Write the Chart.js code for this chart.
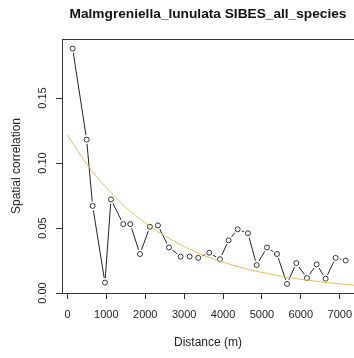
<!DOCTYPE html>
<html>
<head>
<meta charset="utf-8">
<script src="https://cdn.jsdelivr.net/npm/chart.js@4.4.1/dist/chart.umd.min.js"></script>
<style>
  html, body { margin: 0; padding: 0; background: #fff; overflow: hidden; }
  #wrap { width: 354px; height: 358px; position: relative; }
</style>
</head>
<body>
<div id="wrap"><canvas id="chart"></canvas></div>
<script>
const chartTitle = "Malmgreniella_lunulata SIBES_all_species";
const xLabel = "Distance (m)";
const yLabel = "Spatial correlation";

// correlogram points (distance class centre, correlation)
const distances = [134, 493, 647, 964, 1118, 1435, 1615, 1864, 2121, 2326, 2609, 2910, 3141, 3363,
  3645, 3920, 4143, 4375, 4640, 4863, 5129, 5386, 5643, 5882, 6157, 6406, 6637, 6894, 7152];
const correlations = [0.188, 0.118, 0.067, 0.008, 0.072, 0.053, 0.053, 0.030, 0.051, 0.052, 0.035, 0.028, 0.028, 0.027,
  0.031, 0.026, 0.0405, 0.049, 0.046, 0.0215, 0.035, 0.030, 0.007, 0.023, 0.0115, 0.022, 0.011, 0.027, 0.025];

// fitted decay curve
const fitDistances = [0, 500, 1000, 1500, 2000, 2500, 3000, 3500, 4000, 4500, 5000, 5500, 6000, 6500, 7000, 7500];
const fitValues = [0.1215, 0.099, 0.081, 0.066, 0.054, 0.044, 0.0357, 0.029, 0.0237, 0.0193, 0.0158, 0.0129, 0.0105, 0.0086, 0.0070, 0.0057];

const xTicks = [0, 1000, 2000, 3000, 4000, 5000, 6000, 7000];
const yTicks = [0, 0.05, 0.10, 0.15];

const FONT = '"Liberation Sans", Arial, Helvetica, sans-serif';
const INK = "#222";
const AXIS = "#333";

const points = distances.map((d, i) => ({ x: d, y: correlations[i] }));
const fitPoints = fitDistances.map((d, i) => ({ x: d, y: fitValues[i] }));

// main title centred over the plot region, like R does
const titlePlugin = {
  id: "rTitle",
  afterDraw(chart) {
    const { ctx, chartArea } = chart;
    ctx.save();
    ctx.font = "bold 13.7px " + FONT;
    ctx.fillStyle = "#111";
    ctx.textAlign = "center";
    ctx.textBaseline = "middle";
    ctx.fillText(chartTitle, (chartArea.left + chartArea.right) / 2, 14.5);
    ctx.restore();
  }
};

new Chart(document.getElementById("chart").getContext("2d"), {
  type: "scatter",
  data: {
    datasets: [
      // connecting segments
      { data: points, showLine: true, borderColor: INK, borderWidth: 1, pointRadius: 0, tension: 0, order: 3 },
      // white gaps round each point (R type = "b")
      { data: points, showLine: false, pointRadius: 4.5, pointBackgroundColor: "#fff", pointBorderWidth: 0, order: 2 },
      { data: points, showLine: false, pointRadius: 2.5, pointBackgroundColor: "rgba(255,255,255,0)",
        pointBorderColor: AXIS, pointBorderWidth: 1, order: 1 },
      { data: fitPoints, showLine: true, borderColor: "#ecbb62", borderWidth: 1, pointRadius: 0,
        cubicInterpolationMode: "monotone", order: 0 }
    ]
  },
  options: {
    responsive: true,
    maintainAspectRatio: false,
    animation: false,
    layout: { autoPadding: false, padding: { top: 39, left: 0, right: 0, bottom: 0 } },
    plugins: { legend: { display: false }, tooltip: { enabled: false } },
    scales: {
      x: {
        type: "linear", position: "bottom", min: -140, max: 7366,
        afterBuildTicks: s => { s.ticks = xTicks.map(v => ({ value: v })); },
        afterFit: s => { s.height = 65; s.paddingLeft = 0; s.paddingRight = 0; },
        ticks: { color: INK, font: { family: FONT, size: 11 }, padding: 9.5, maxRotation: 0, autoSkip: false, callback: v => String(v) },
        grid: { display: true, drawOnChartArea: false, drawTicks: true, tickLength: 6, color: AXIS },
        border: { display: true, color: AXIS, width: 1 },
        title: { display: true, text: xLabel, color: INK, font: { family: FONT, size: 12 }, padding: { top: 0, bottom: 8 } }
      },
      xTop: {
        type: "linear", position: "top", min: -140, max: 7366,
        afterFit: s => { s.height = 0; s.paddingLeft = 0; s.paddingRight = 0; },
        ticks: { display: false },
        grid: { display: false },
        border: { display: true, color: AXIS, width: 1 }
      },
      y: {
        type: "linear", position: "left", min: 0, max: 0.1954,
        afterBuildTicks: s => { s.ticks = yTicks.map(v => ({ value: v })); },
        afterFit: s => { s.width = 62; s.paddingTop = 0; s.paddingBottom = 0; },
        ticks: { color: INK, font: { family: FONT, size: 11 }, padding: 2, minRotation: 90, maxRotation: 90,
          crossAlign: "center", callback: v => Number(v).toFixed(2) },
        grid: { display: true, drawOnChartArea: false, drawTicks: true, tickLength: 6, color: AXIS },
        border: { display: true, color: AXIS, width: 1 },
        title: { display: true, text: yLabel, color: INK, font: { family: FONT, size: 12 }, padding: { top: 9, bottom: 0 } }
      }
    }
  },
  plugins: [titlePlugin]
});
</script>
</body>
</html>
